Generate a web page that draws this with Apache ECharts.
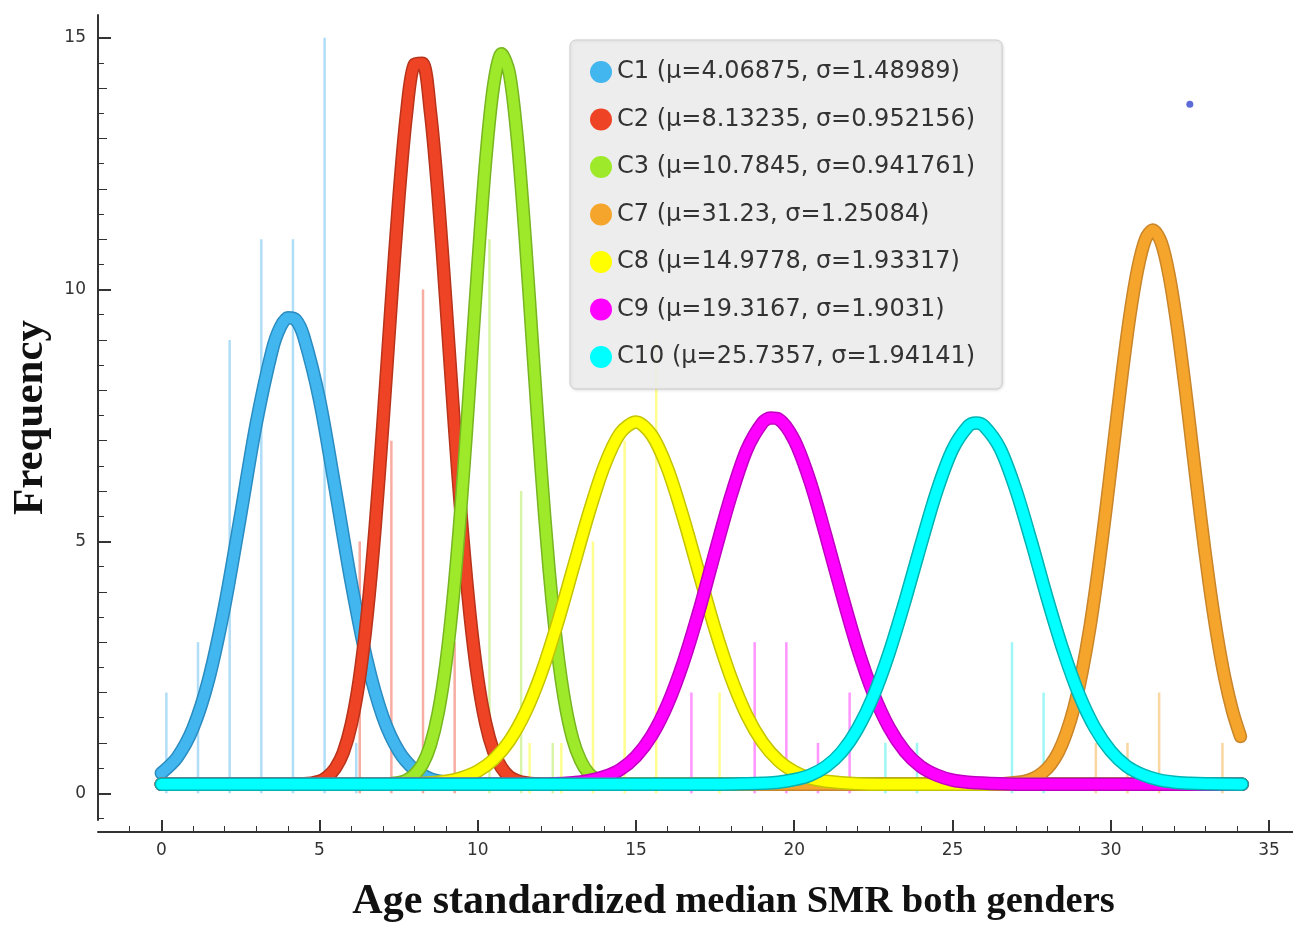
<!DOCTYPE html>
<html>
<head>
<meta charset="utf-8">
<script src="https://cdn.jsdelivr.net/npm/echarts@6/dist/echarts.min.js"></script>
<style>html,body{margin:0;padding:0;background:#fff}#chart{width:1293px;height:928px}</style>
</head>
<body>
<div id="chart"></div>
<script>
// ---- data ----
const clusterNames = ['C1 (μ=4.06875, σ=1.48989)','C2 (μ=8.13235, σ=0.952156)','C3 (μ=10.7845, σ=0.941761)','C7 (μ=31.23, σ=1.25084)','C8 (μ=14.9778, σ=1.93317)','C9 (μ=19.3167, σ=1.9031)','C10 (μ=25.7357, σ=1.94141)'];

const c1Curve = [[0,0.40],[0.5,0.71],[1,1.29],[1.5,2.27],[2,3.71],[2.5,5.50],[3,7.34],[3.5,8.79],[3.75,9.24],[4,9.44],[4.25,9.40],[4.5,9.07],[5,7.81],[5.5,6.03],[6,4.19],[6.5,2.63],[7,1.52],[7.5,0.84],[8,0.47],[8.5,0.29],[9,0.22],[9.5,0.19],[10,0.18],[10.5,0.18],[34.15,0.18]];
const c2Curve = [[0,0.18],[4.5,0.19],[5,0.24],[5.25,0.33],[5.5,0.50],[5.75,0.81],[6,1.36],[6.25,2.23],[6.5,3.51],[6.75,5.22],[7,7.31],[7.25,9.59],[7.5,11.76],[7.75,13.50],[8,14.47],[8.25,14.49],[8.5,13.55],[8.75,11.84],[9,9.68],[9.25,7.40],[9.5,5.30],[9.75,3.57],[10,2.28],[10.25,1.39],[10.5,0.83],[10.75,0.51],[11,0.33],[11.25,0.25],[11.5,0.21],[12,0.18],[12.5,0.18],[34.15,0.18]];
const c3Curve = [[0,0.18],[7,0.18],[7.5,0.21],[7.75,0.26],[8,0.37],[8.25,0.57],[8.5,0.95],[8.75,1.60],[9,2.61],[9.25,4.06],[9.5,5.94],[9.75,8.16],[10,10.47],[10.25,12.56],[10.5,14.05],[10.75,14.68],[11,14.29],[11.25,12.98],[11.5,11.01],[11.75,8.71],[12,6.45],[12.25,4.47],[12.5,2.92],[12.75,1.81],[13,1.08],[13.25,0.65],[13.5,0.40],[13.75,0.28],[14,0.22],[14.5,0.18],[15,0.18],[34.15,0.18]];
const c7Curve = [[0,0.18],[26.1,0.18],[26.6,0.19],[27.1,0.22],[27.35,0.25],[27.6,0.31],[27.85,0.41],[28.1,0.57],[28.35,0.82],[28.6,1.20],[28.85,1.72],[29.1,2.43],[29.35,3.32],[29.6,4.41],[29.85,5.64],[30.1,6.96],[30.35,8.27],[30.6,9.46],[30.85,10.40],[31.1,11.00],[31.33,11.18],[31.6,10.93],[31.85,10.27],[32.1,9.28],[32.35,8.07],[32.6,6.75],[32.85,5.44],[33.1,4.22],[33.35,3.17],[33.6,2.30],[33.85,1.63],[34.1,1.13]];
const c8Curve = [[0,0.18],[7,0.18],[8,0.19],[9,0.24],[9.5,0.31],[10,0.44],[10.5,0.67],[11,1.04],[11.5,1.60],[12,2.37],[12.5,3.34],[13,4.44],[13.5,5.54],[14,6.50],[14.5,7.15],[15,7.37],[15.5,7.11],[16,6.44],[16.5,5.46],[17,4.35],[17.5,3.25],[18,2.30],[18.5,1.55],[19,1.01],[19.5,0.65],[20,0.43],[20.5,0.30],[21,0.24],[22,0.19],[23,0.18],[24,0.18],[34.15,0.18]];
const c9Curve = [[0,0.18],[11,0.18],[12,0.18],[13,0.21],[13.5,0.25],[14,0.33],[14.5,0.47],[15,0.73],[15.5,1.15],[16,1.77],[16.5,2.61],[17,3.64],[17.5,4.79],[18,5.90],[18.5,6.82],[19,7.36],[19.25,7.45],[19.5,7.43],[20,7.01],[20.5,6.19],[21,5.11],[21.5,3.96],[22,2.88],[22.5,1.98],[23,1.30],[23.5,0.83],[24,0.53],[24.5,0.36],[25,0.26],[25.5,0.22],[26.5,0.19],[27.5,0.18],[28.5,0.18],[34.15,0.18]];
const c10Curve = [[0,0.18],[17.5,0.18],[18.5,0.19],[19,0.20],[19.5,0.22],[20,0.27],[20.5,0.36],[21,0.53],[21.5,0.82],[22,1.28],[22.5,1.93],[23,2.79],[23.5,3.82],[24,4.93],[24.5,5.99],[25,6.82],[25.5,7.29],[25.75,7.35],[26,7.29],[26.5,6.85],[27,6.03],[27.5,4.98],[28,3.86],[28.5,2.83],[29,1.96],[29.5,1.30],[30,0.84],[30.5,0.54],[31,0.37],[31.5,0.27],[32,0.22],[32.5,0.20],[33,0.19],[34.15,0.18]];

const c1Bars = [[0.16,2],[1.16,3],[2.16,9],[3.16,11],[4.16,11],[5.16,15],[6.16,1]];
const c2Bars = [[6.27,5],[7.27,7],[8.27,10],[9.27,3]];
const c3Bars = [[10.37,11],[11.37,6],[12.37,1]];
const c7Bars = [[29.53,1],[30.53,1],[31.53,2],[33.53,1]];
const c8Bars = [[11.64,1],[12.64,1],[13.64,5],[14.64,7],[15.64,9],[17.64,2]];
const c9Bars = [[16.75,2],[18.75,3],[19.75,3],[20.75,1],[21.75,2]];
const c10Bars = [[22.88,1],[23.88,1],[26.88,3],[27.88,2]];

const strayPoint = [[32.5,13.68]];

const xMajorTicks = [0,5,10,15,20,25,30,35];
const xMinorTicks = [-1,0,1,2,3,4,5,6,7,8,9,10,11,12,13,14,15,16,17,18,19,20,21,22,23,24,25,26,27,28,29,30,31,32,33,34,35];
const yMajorTicks = [0,5,10,15];
const yIntTicks = [0,1,2,3,4,5,6,7,8,9,10,11,12,13,14,15];
const yHalfTicks = [-0.5,0.5,1.5,2.5,3.5,4.5,5.5,6.5,7.5,8.5,9.5,10.5,11.5,12.5,13.5,14.5];

// ---- styles ----
const curves = [c1Curve,c2Curve,c3Curve,c7Curve,c8Curve,c9Curve,c10Curve];
const bars = [c1Bars,c2Bars,c3Bars,c7Bars,c8Bars,c9Bars,c10Bars];
const fillColors = ['#41b6ef','#ee4324','#9eea2a','#f5a52c','#ffff00','#ff00ff','#00ffff'];
const edgeColors = ['#2b8cc0','#b8331b','#77b521','#c9852a','#c4c400','#c000c0','#00b4b4'];
const barColors = ['#b0ddf7','#f7ada2','#d8f4a8','#fad6a0','#ffff90','#ff96ff','#9ff6f6'];

const histData = [];
bars.forEach((b, i) => b.forEach(p => histData.push({ value: p, itemStyle: { color: barColors[i] } })));

const series = [{
  type: 'bar', name: 'hist', data: histData, barWidth: 2.5, xAxisIndex: 0, yAxisIndex: 0, z: 1, silent: true
}];
curves.forEach((c, i) => {
  series.push({
    type: 'line', name: 'edge' + i, data: c, symbol: 'none', showSymbol: false, smooth: 0.3,
    xAxisIndex: 0, yAxisIndex: 0, z: 2,
    lineStyle: { color: edgeColors[i], width: 13.5, cap: 'round', join: 'round' },
    itemStyle: { color: edgeColors[i] }
  });
  series.push({
    type: 'line', name: clusterNames[i], data: c, symbol: 'none', showSymbol: false, smooth: 0.3,
    xAxisIndex: 0, yAxisIndex: 0, z: 2,
    lineStyle: { color: fillColors[i], width: 10.5, cap: 'round', join: 'round' },
    itemStyle: { color: fillColors[i] }
  });
});
series.push({
  type: 'scatter', name: 'point', data: strayPoint, symbolSize: 7, z: 3,
  itemStyle: { color: '#3546d0' }
});

const axisFont = { fontFamily: 'DejaVu Sans', fontSize: 17, color: '#333' };
const X_MIN = -2, X_MAX = 35.76, Y_MIN = -0.53, Y_MAX = 15.45;

const option = {
  animation: false,
  backgroundColor: '#fff',
  grid: { left: 98, right: 0, top: 15, bottom: 106 },
  legend: {
    data: clusterNames.map(n => ({ name: n, icon: 'circle' })),
    orient: 'vertical', left: 570, top: 40,
    itemWidth: 22, itemHeight: 22, itemGap: 21.5,
    padding: [19, 27, 19, 20],
    backgroundColor: 'rgba(238,238,238,0.88)',
    borderColor: '#cdcdcd', borderWidth: 1, borderRadius: 6,
    shadowColor: 'rgba(0,0,0,0.12)', shadowBlur: 3, shadowOffsetX: 1, shadowOffsetY: 1,
    itemStyle: { borderWidth: 0 },
    textStyle: { fontFamily: 'DejaVu Sans', fontSize: 24, color: '#333', lineHeight: 26 }
  },
  xAxis: [{
    type: 'value', min: X_MIN, max: X_MAX, position: 'bottom', offset: 12,
    axisLine: { show: true, onZero: false, lineStyle: { color: '#333', width: 2 } },
    axisTick: { show: true, inside: true, length: 12, customValues: xMajorTicks, lineStyle: { color: '#333', width: 2 } },
    axisLabel: Object.assign({ customValues: xMajorTicks, margin: 10 }, axisFont),
    splitLine: { show: false },
    name: '{a|Age standardized}{b|median SMR both genders}',
    nameLocation: 'middle', nameGap: 49,
    nameTextStyle: {
      padding: [0, 0, 0, 76],
      rich: {
        a: { fontFamily: 'Liberation Serif', fontWeight: 'bold', fontSize: 42, color: '#111', padding: [0, 9, 0, 0] },
        b: { fontFamily: 'Liberation Serif', fontWeight: 'bold', fontSize: 38.5, color: '#111' }
      }
    }
  }, {
    type: 'value', min: X_MIN, max: X_MAX, position: 'bottom', offset: 12,
    axisLine: { show: false, onZero: false },
    axisTick: { show: true, inside: true, length: 6, customValues: xMinorTicks, lineStyle: { color: '#333', width: 1 } },
    axisLabel: { show: false },
    splitLine: { show: false }
  }],
  yAxis: [{
    type: 'value', min: Y_MIN, max: Y_MAX, position: 'left',
    axisLine: { show: true, onZero: false, lineStyle: { color: '#333', width: 2 } },
    axisTick: { show: true, inside: true, length: 13, customValues: yMajorTicks, lineStyle: { color: '#333', width: 2 } },
    axisLabel: Object.assign({ customValues: yMajorTicks, margin: 12 }, axisFont),
    splitLine: { show: false },
    name: 'Frequency', nameLocation: 'middle', nameGap: 46, nameRotate: 90,
    nameTextStyle: { fontFamily: 'Liberation Serif', fontWeight: 'bold', fontSize: 43, color: '#111' }
  }, {
    type: 'value', min: Y_MIN, max: Y_MAX, position: 'left',
    axisLine: { show: false, onZero: false },
    axisTick: { show: true, inside: true, length: 9, customValues: yIntTicks, lineStyle: { color: '#333', width: 1 } },
    axisLabel: { show: false }, splitLine: { show: false }
  }, {
    type: 'value', min: Y_MIN, max: Y_MAX, position: 'left',
    axisLine: { show: false, onZero: false },
    axisTick: { show: true, inside: true, length: 6, customValues: yHalfTicks, lineStyle: { color: '#333', width: 1 } },
    axisLabel: { show: false }, splitLine: { show: false }
  }],
  series: series
};

const chart = echarts.init(document.getElementById('chart'), null, { renderer: 'canvas' });
chart.setOption(option);
</script>
</body>
</html>
